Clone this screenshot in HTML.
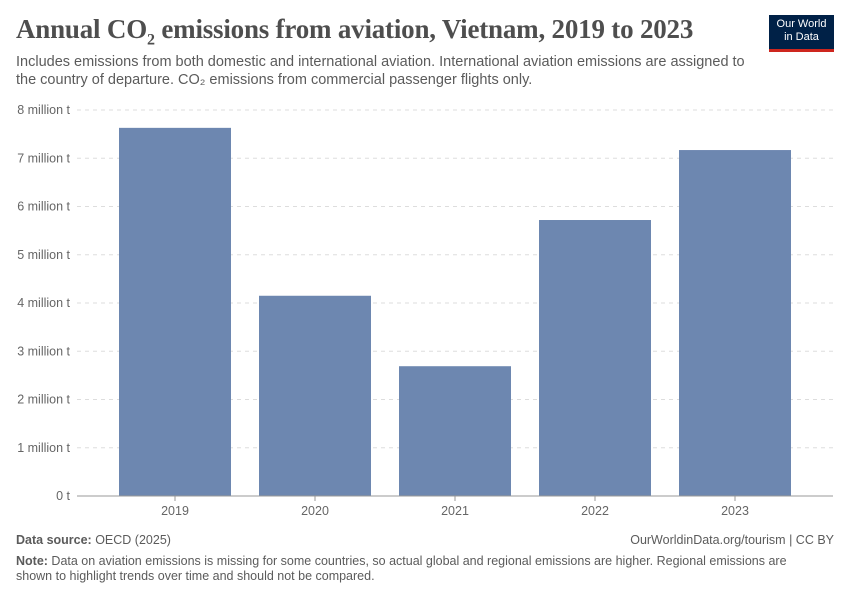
<!DOCTYPE html>
<html><head><meta charset="utf-8">
<style>
body{margin:0;width:850px;height:600px;background:#fff;font-family:"Liberation Sans",sans-serif;position:relative;overflow:hidden}
.t{position:absolute;margin:0}
</style></head>
<body>
<h1 class="t" style="left:16px;top:14px;font-family:'Liberation Serif',serif;font-weight:bold;font-size:27px;color:#4e4e4e;letter-spacing:-0.2px;white-space:nowrap">Annual CO<sub style="font-size:16px">2</sub> emissions from aviation, Vietnam, 2019 to 2023</h1>
<p class="t" style="left:16px;top:53px;font-size:14.5px;line-height:18px;color:#5b5b5b;width:740px">Includes emissions from both domestic and international aviation. International aviation emissions are assigned to the country of departure. CO₂ emissions from commercial passenger flights only.</p>
<div style="position:absolute;left:769px;top:15px;width:65px;height:37px;background:#002147;border-bottom:3px solid #ce261e;color:#fff;font-size:11px;text-align:center;line-height:13px;padding-top:3px;box-sizing:border-box">Our World<br>in Data</div>
<svg id="chart" width="850" height="600" style="position:absolute;left:0;top:0"></svg>
<p class="t" style="left:16px;top:533px;font-size:12.5px;color:#5b5b5b"><b>Data source:</b> OECD (2025)</p>
<p class="t" style="right:16px;top:533px;font-size:12.5px;color:#5b5b5b">OurWorldinData.org/tourism | CC BY</p>
<p class="t" style="left:16px;top:554px;font-size:12.5px;line-height:15px;color:#5b5b5b;width:800px"><b>Note:</b> Data on aviation emissions is missing for some countries, so actual global and regional emissions are higher. Regional emissions are shown to highlight trends over time and should not be compared.</p>
<script>
const categories=["2019","2020","2021","2022","2023"];
const values=[7.63,4.15,2.69,5.72,7.17];
const ticks=[0,1,2,3,4,5,6,7,8];
const tickLabels=["0 t","1 million t","2 million t","3 million t","4 million t","5 million t","6 million t","7 million t","8 million t"];
const svg=document.getElementById('chart');
const NS='http://www.w3.org/2000/svg';
const y0=496,y1=110,yMax=8;
const y=v=>y0-(v/yMax)*(y0-y1);
const x=i=>175+i*140;
const bw=112;
function mk(t,a){const e=document.createElementNS(NS,t);for(const k in a)e.setAttribute(k,a[k]);svg.appendChild(e);return e;}
ticks.forEach((t,i)=>{
 if(t>0){const g=mk('line',{x1:77,x2:833,y1:y(t),y2:y(t),stroke:'#ddd','stroke-dasharray':'4,4'});
 
 }
 const l=mk('text',{x:70,y:y(t)+4,'text-anchor':'end','font-size':'12.5',fill:'#666','font-family':'Liberation Sans'});
 l.textContent=tickLabels[i];
 
 
});
values.forEach((v,i)=>{
 const r=mk('rect',{x:x(i)-bw/2,y:y(v),width:bw,height:y0-y(v),fill:'#6d87b0'});
 
 
 const tk=mk('line',{x1:x(i),x2:x(i),y1:y0,y2:y0+5,stroke:'#999'});
 
 
 const l=mk('text',{x:x(i),y:y0+19,'text-anchor':'middle','font-size':'12.5',fill:'#666','font-family':'Liberation Sans'});
 l.textContent=categories[i];
 
 
});
const ax=mk('line',{x1:77,x2:833,y1:y0,y2:y0,stroke:'#999'});


</script>
</body></html>
